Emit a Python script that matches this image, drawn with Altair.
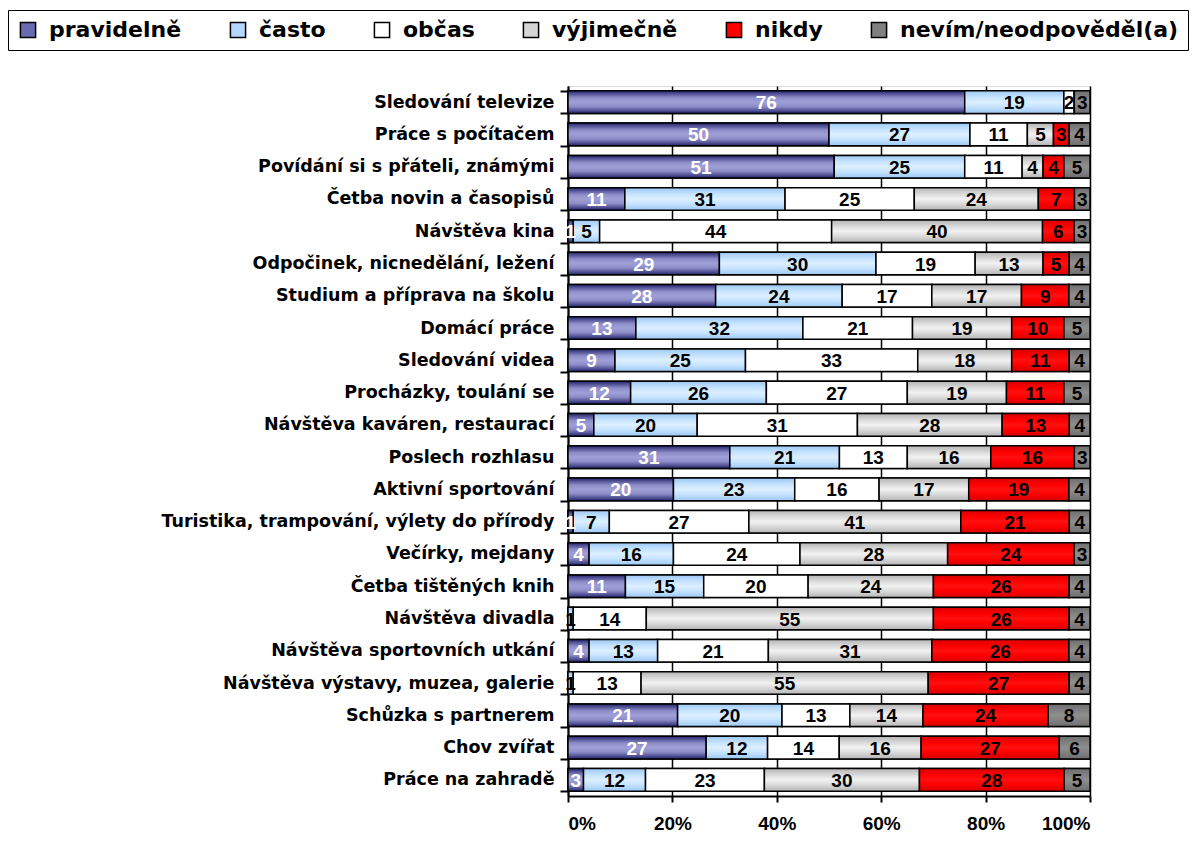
import altair as alt
import pandas as pd

activities = [
    "Sledování televize", "Práce s počítačem", "Povídání si s přáteli, známými",
    "Četba novin a časopisů", "Návštěva kina", "Odpočinek, nicnedělání, ležení",
    "Studium a  příprava na školu", "Domácí práce", "Sledování videa",
    "Procházky, toulání se", "Návštěva kaváren, restaurací", "Poslech rozhlasu",
    "Aktivní sportování", "Turistika, trampování, výlety do přírody", "Večírky, mejdany",
    "Četba tištěných knih", "Návštěva divadla", "Návštěva sportovních utkání",
    "Návštěva výstavy, muzea, galerie", "Schůzka s partnerem", "Chov zvířat",
    "Práce na zahradě",
]
categories = ["pravidelně", "často", "občas", "výjimečně", "nikdy", "nevím/neodpověděl(a)"]

pravidelne = [76, 50, 51, 11, 1, 29, 28, 13, 9, 12, 5, 31, 20, 1, 4, 11, 0, 4, 0, 21, 27, 3]
casto      = [19, 27, 25, 31, 5, 30, 24, 32, 25, 26, 20, 21, 23, 7, 16, 15, 1, 13, 1, 20, 12, 12]
obcas      = [2, 11, 11, 25, 44, 19, 17, 21, 33, 27, 31, 13, 16, 27, 24, 20, 14, 21, 13, 13, 14, 23]
vyjimecne  = [0, 5, 4, 24, 40, 13, 17, 19, 18, 19, 28, 16, 17, 41, 28, 24, 55, 31, 55, 14, 16, 30]
nikdy      = [0, 3, 4, 7, 6, 5, 9, 10, 11, 11, 13, 16, 19, 21, 24, 26, 26, 26, 27, 24, 27, 28]
nevim      = [3, 4, 5, 3, 3, 4, 4, 5, 4, 5, 4, 3, 4, 4, 3, 4, 4, 4, 4, 8, 6, 5]

series = [pravidelne, casto, obcas, vyjimecne, nikdy, nevim]
rows = []
for ci, (cat, vals) in enumerate(zip(categories, series)):
    for act, v in zip(activities, vals):
        rows.append({"activity": act, "cat": cat, "order": ci, "value": v})
df = pd.DataFrame(rows)

solid = ["#6a6ab0", "#b4d8fc", "#ffffff", "#d6d6d6", "#ff0000", "#808080"]
grads = [
    ["#24246e", "#8c8cc8", "#a0a0d8", "#8c8cc8", "#24246e"],
    ["#9cc8f4", "#c8e4ff", "#dcefff", "#c8e4ff", "#9cc8f4"],
    ["#ffffff", "#ffffff", "#ffffff", "#ffffff", "#ffffff"],
    ["#b4b4b4", "#dcdcdc", "#f2f2f2", "#dcdcdc", "#b4b4b4"],
    ["#d80000", "#ff0000", "#ff1010", "#ff0000", "#d80000"],
    ["#6e6e6e", "#828282", "#8e8e8e", "#828282", "#6e6e6e"],
]
offsets = [0, 0.3, 0.5, 0.7, 1]

LABEL_FONT = "DejaVu Sans"
NUM_FONT = "Liberation Sans"

base = alt.Chart(df).transform_stack(
    stack="value", groupby=["activity"], as_=["v0", "v1"], offset="normalize",
    sort=[alt.SortField("order", order="ascending")],
).transform_calculate(mid="(datum.v0 + datum.v1) / 2")

yenc = alt.Y(
    "activity:N", sort=activities,
    scale=alt.Scale(paddingInner=0.3, paddingOuter=0.15),
    axis=alt.Axis(
        title=None, tickBand="extent", domainColor="black", domainWidth=2,
        tickColor="black", tickWidth=2, tickSize=8, labelFont=LABEL_FONT,
        labelFontSize=17.5, labelFontWeight="bold", labelColor="black",
        labelLimit=600, labelPadding=6, grid=False,
    ),
)
xenc = alt.X(
    "v0:Q", scale=alt.Scale(domain=[0, 1], nice=False),
    axis=alt.Axis(
        title=None, format="%", values=[0, 0.2, 0.4, 0.6, 0.8, 1.0],
        grid=True, gridColor="black", gridOpacity=1, gridWidth=1.5,
        domainColor="black", domainWidth=2, tickColor="black", tickWidth=2,
        tickSize=6, labelFont=NUM_FONT, labelFontSize=19, labelFontWeight="bold",
        labelColor="black", labelPadding=12,
    ),
)

bars = base.mark_bar(stroke="black", strokeWidth=1.5).encode(
    y=yenc, x=xenc, x2="v1:Q",
    color=alt.Color(
        "cat:N", sort=categories,
        scale=alt.Scale(domain=categories, range=solid),
        legend=alt.Legend(
            title=None, orient="none", legendX=-560, legendY=-76,
            direction="horizontal", columns=6, symbolType="square",
            symbolSize=230, symbolStrokeColor="black", symbolStrokeWidth=1.5,
            labelFont=LABEL_FONT, labelFontSize=22, labelFontWeight="bold",
            labelColor="black", labelOffset=10, columnPadding=45, labelLimit=0,
            strokeColor="black", padding=9,
        ),
    ),
)

layers = [bars]
for cat, g in zip(categories, grads):
    grad = alt.Gradient(
        gradient="linear", x1=0, x2=0, y1=0, y2=1,
        stops=[alt.GradientStop(offset=o, color=c) for o, c in zip(offsets, g)],
    )
    layers.append(
        base.transform_filter(alt.datum.cat == cat)
        .mark_bar(color=grad, stroke="black", strokeWidth=1.5)
        .encode(y=alt.Y("activity:N", sort=activities), x="v0:Q", x2="v1:Q")
    )

labels = base.transform_filter(alt.datum.value > 0).mark_text(
    font=NUM_FONT, fontSize=19, fontWeight="bold", baseline="middle", align="center", dy=1,
).encode(
    y=alt.Y("activity:N", sort=activities),
    x="mid:Q",
    text="value:Q",
    color=alt.condition("datum.cat === 'pravidelně'", alt.value("white"), alt.value("black")),
)
layers.append(labels)

chart = alt.layer(*layers).properties(
    width=522, height=710,
    autosize=alt.AutoSizeParams(type="none"),
    padding={"left": 560, "top": 78, "right": 100, "bottom": 37},
).configure_view(stroke="black", strokeWidth=1.5).configure(background="white")

chart.save("out.html", embed_options={"renderer": "svg", "actions": False})
